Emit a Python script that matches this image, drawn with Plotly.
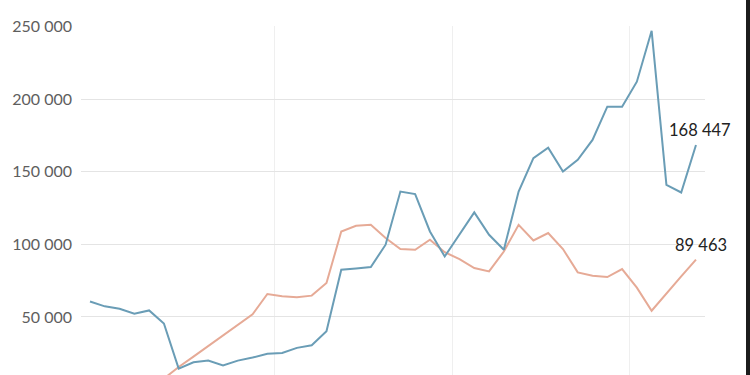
import plotly.graph_objects as go

# monthly index positions (0..41)
months = list(range(42))

blue = [60700, 57300, 55700, 52300, 54500, 45500, 14400, 18800, 19900, 16500,
        19900, 22000, 24700, 25200, 28700, 30500, 40100, 82600, 83400, 84400,
        99800, 136400, 134700, 108900, 91700, 106500, 122100, 106600, 96300, 136400,
        159400, 166700, 150200, 158300, 172000, 194900, 194900, 212100, 247200, 141000,
        135800, 168447]

salmon = [None, None, None, None, None, 7500, 15500, 22700, 29900, 37100,
          44700, 51800, 65800, 64200, 63500, 64700, 73400, 108900, 112800, 113500,
          104400, 96800, 96300, 103200, 94600, 89900, 83700, 81400, 95100, 113500,
          102700, 107800, 96800, 80700, 78400, 77500, 83000, 70200, 54300, 66500,
          77900, 89463]

ytick_vals = [50000, 100000, 150000, 200000, 250000]
ytick_text = ["50 000", "100 000", "150 000", "200 000", "250 000"]
year_breaks = [12.5, 24.5, 36.5]
end_labels = ["168 447", "89 463"]

BLUE = "#6a9db6"
SALMON = "#e6aa96"
FONT = "Lato, sans-serif"

fig = go.Figure()
fig.add_trace(go.Scatter(x=months, y=salmon, mode="lines",
                         line=dict(color=SALMON, width=2), connectgaps=False))
fig.add_trace(go.Scatter(x=months, y=blue, mode="lines",
                         line=dict(color=BLUE, width=2)))

fig.add_annotation(x=months[-1], y=blue[-1], text=end_labels[0], showarrow=False,
                   xanchor="center", yanchor="bottom", xshift=4, yshift=3,
                   font=dict(family=FONT, size=16.5, color="#222222"))
fig.add_annotation(x=months[-1], y=salmon[-1], text=end_labels[1], showarrow=False,
                   xanchor="center", yanchor="bottom", xshift=5, yshift=3,
                   font=dict(family=FONT, size=16.5, color="#222222"))

# dark strip at right edge of the screenshot
fig.add_shape(type="rect", xref="paper", yref="paper", x0=(746 - 81) / 624, x1=1.2,
              y0=-0.2, y1=1.2, fillcolor="#1c1c1c", line=dict(width=0), layer="above")

fig.update_layout(
    width=750, height=375,
    margin=dict(l=81, r=45, t=26, b=0),
    paper_bgcolor="white", plot_bgcolor="white",
    showlegend=False,
    xaxis=dict(range=[-0.609, 41.61], tickvals=year_breaks, showticklabels=False,
               showgrid=True, gridcolor="#efefef", gridwidth=1, zeroline=False,
               showline=False, ticks=""),
    yaxis=dict(range=[10000, 250500], tickvals=ytick_vals, ticktext=ytick_text,
               showgrid=True, gridcolor="#e4e4e4", gridwidth=1, zeroline=False,
               showline=False, ticks="", ticklabelstandoff=8,
               tickfont=dict(family=FONT, size=16, color="#5e5e5e")),
)

fig.write_html("out.html")
